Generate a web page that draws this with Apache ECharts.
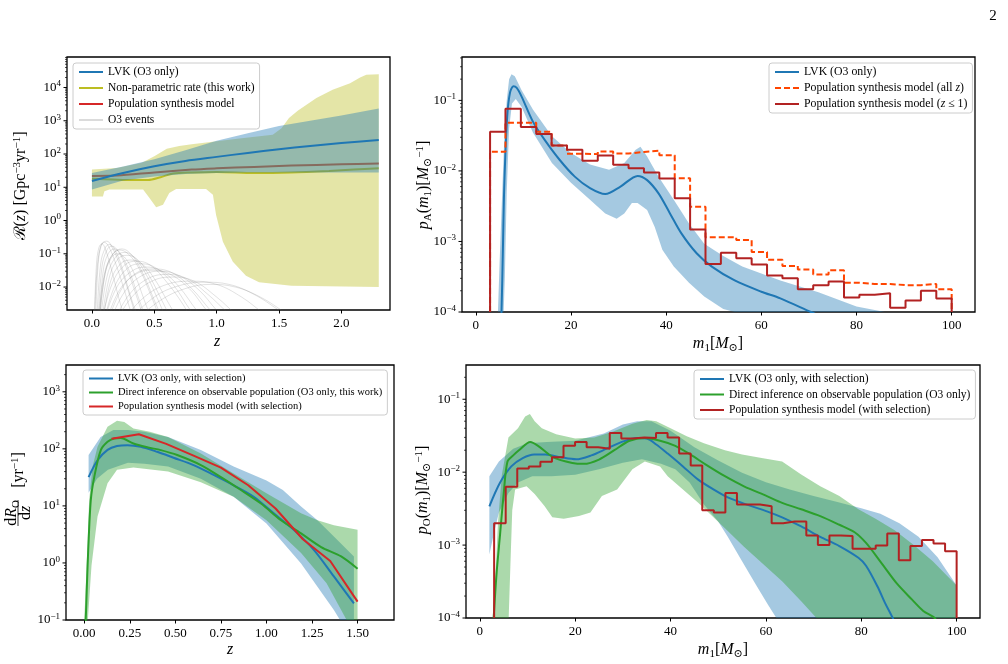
<!DOCTYPE html>
<html>
<head>
<meta charset="utf-8">
<script src="https://cdn.jsdelivr.net/npm/echarts@6/dist/echarts.min.js"></script>
<style>
  html, body { margin: 0; padding: 0; background: #fff; }
  #main { width: 1008px; height: 664px; }
</style>
</head>
<body>
<div id="main"></div>
<script>
// ---------- top left: merger rate vs redshift ----------
var tlLvkLine = [[0, 15.5], [0.25, 27], [0.5, 43], [0.75, 62], [1.0, 82], [1.25, 108], [1.5, 140], [1.75, 175], [2.0, 215], [2.3, 262]]
var tlLvkUpper = [[0, 27], [0.25, 42], [0.5, 70], [0.75, 130], [1.0, 250], [1.25, 420], [1.5, 700], [1.75, 1000], [2.0, 1450], [2.3, 2350]]
var tlLvkLower = [[0, 8.5], [0.25, 16], [0.5, 21], [0.75, 25], [1.0, 27], [1.25, 28], [1.5, 28], [1.75, 28], [2.0, 28], [2.3, 28]]
var tlNpLine = [[0, 18], [0.1, 17.5], [0.3, 16.5], [0.45, 16.5], [0.55, 20], [0.65, 26], [0.8, 28], [1.0, 29], [1.3, 27], [1.6, 28], [1.9, 31], [2.1, 34], [2.3, 37]]
var tlNpUpper = [[0, 34], [0.2, 38], [0.4, 55], [0.5, 85], [0.6, 145], [0.7, 175], [0.8, 195], [1.0, 240], [1.2, 300], [1.45, 380], [1.52, 600], [1.58, 1200], [1.65, 2000], [1.8, 4800], [1.93, 8500], [2.07, 13500], [2.15, 20000], [2.2, 24000], [2.3, 25000]]
var tlNpLower = [[0, 5.3], [0.088, 5.3], [0.1, 7.6], [0.14, 8.5], [0.41, 8.5], [0.46, 4.8], [0.515, 2.5], [0.57, 3.0], [0.62, 6.7], [0.675, 8.9], [0.915, 8.9], [0.97, 6.0], [0.995, 1.5], [1.05, 0.23], [1.13, 0.058], [1.235, 0.022], [1.34, 0.014], [1.6, 0.011], [2.3, 0.01]]
var tlPopLine = [[0, 22], [0.2, 22.5], [0.5, 28], [0.8, 34], [1.0, 37], [1.3, 41], [1.6, 45], [2.0, 49], [2.3, 52]]
var tlO3Events = [
  [[0.02, 0.001], [0.04, 0.03], [0.07, 0.17], [0.1, 0.22], [0.14, 0.15], [0.2, 0.04], [0.27, 0.006], [0.33, 0.001]],
  [[0.03, 0.001], [0.05, 0.05], [0.08, 0.2], [0.12, 0.24], [0.16, 0.16], [0.22, 0.05], [0.3, 0.006], [0.36, 0.001]],
  [[0.05, 0.001], [0.08, 0.04], [0.12, 0.13], [0.16, 0.17], [0.21, 0.12], [0.28, 0.035], [0.36, 0.005], [0.42, 0.001]],
  [[0.04, 0.001], [0.07, 0.05], [0.11, 0.16], [0.14, 0.19], [0.19, 0.12], [0.25, 0.03], [0.32, 0.004], [0.38, 0.001]],
  [[0.02, 0.001], [0.035, 0.04], [0.055, 0.15], [0.08, 0.2], [0.11, 0.13], [0.16, 0.03], [0.22, 0.004], [0.27, 0.001]],
  [[0.06, 0.001], [0.09, 0.03], [0.13, 0.1], [0.18, 0.14], [0.23, 0.1], [0.3, 0.03], [0.38, 0.004], [0.44, 0.001]],
  [[0.05, 0.001], [0.1, 0.025], [0.16, 0.09], [0.22, 0.13], [0.29, 0.1], [0.38, 0.035], [0.47, 0.006], [0.55, 0.001]],
  [[0.07, 0.001], [0.12, 0.02], [0.19, 0.08], [0.26, 0.11], [0.33, 0.085], [0.42, 0.03], [0.52, 0.005], [0.6, 0.001]],
  [[0.06, 0.001], [0.11, 0.03], [0.17, 0.1], [0.24, 0.14], [0.31, 0.1], [0.4, 0.03], [0.5, 0.004], [0.57, 0.001]],
  [[0.08, 0.001], [0.14, 0.02], [0.21, 0.07], [0.28, 0.09], [0.36, 0.07], [0.45, 0.025], [0.56, 0.004], [0.64, 0.001]],
  [[0.09, 0.001], [0.15, 0.015], [0.23, 0.05], [0.31, 0.065], [0.4, 0.05], [0.5, 0.018], [0.62, 0.003], [0.7, 0.001]],
  [[0.06, 0.001], [0.1, 0.02], [0.15, 0.07], [0.2, 0.1], [0.26, 0.08], [0.34, 0.025], [0.42, 0.004], [0.48, 0.001]],
  [[0.08, 0.001], [0.16, 0.012], [0.26, 0.045], [0.36, 0.06], [0.47, 0.045], [0.6, 0.014], [0.73, 0.003], [0.8, 0.001]],
  [[0.1, 0.001], [0.18, 0.01], [0.29, 0.038], [0.4, 0.05], [0.52, 0.036], [0.65, 0.012], [0.79, 0.002], [0.86, 0.001]],
  [[0.12, 0.001], [0.22, 0.008], [0.35, 0.024], [0.48, 0.032], [0.62, 0.025], [0.78, 0.009], [0.92, 0.002], [1.0, 0.001]],
  [[0.15, 0.001], [0.26, 0.007], [0.4, 0.022], [0.55, 0.03], [0.7, 0.022], [0.86, 0.008], [1.0, 0.002], [1.08, 0.001]],
  [[0.1, 0.001], [0.2, 0.01], [0.32, 0.03], [0.43, 0.04], [0.56, 0.03], [0.7, 0.01], [0.84, 0.002], [0.92, 0.001]],
  [[0.18, 0.001], [0.3, 0.006], [0.45, 0.018], [0.6, 0.024], [0.76, 0.018], [0.93, 0.006], [1.08, 0.0018], [1.16, 0.001]],
  [[0.13, 0.001], [0.24, 0.009], [0.36, 0.027], [0.5, 0.035], [0.65, 0.026], [0.8, 0.009], [0.95, 0.002], [1.03, 0.001]],
  [[0.2, 0.001], [0.32, 0.005], [0.48, 0.015], [0.65, 0.02], [0.82, 0.015], [1.0, 0.005], [1.16, 0.0015], [1.25, 0.001]],
  [[0.3, 0.001], [0.5, 0.005], [0.7, 0.011], [0.9, 0.014], [1.1, 0.012], [1.3, 0.006], [1.5, 0.002], [1.62, 0.001]],
  [[0.35, 0.001], [0.55, 0.004], [0.75, 0.009], [0.95, 0.012], [1.15, 0.01], [1.35, 0.005], [1.55, 0.0017], [1.65, 0.001]],
  [[0.25, 0.001], [0.42, 0.005], [0.6, 0.012], [0.8, 0.015], [1.0, 0.012], [1.2, 0.005], [1.38, 0.0016], [1.48, 0.001]]
]

// ---------- top right: astrophysical primary mass ----------
var trLvkLine = [[5.2, 0.00007], [5.4, 0.0001], [5.7, 0.0008], [6.0, 0.0067], [6.6, 0.059], [7.2, 0.13], [7.9, 0.158], [8.6, 0.15], [9.6, 0.114], [12, 0.05], [14.4, 0.028], [17.6, 0.0144], [20.8, 0.0083], [24, 0.0057], [27.2, 0.0047], [30.4, 0.006], [34, 0.0085], [36, 0.0074], [38.4, 0.0048], [40.8, 0.0025], [43.2, 0.0013], [46.4, 0.00068], [49.6, 0.00044], [54.4, 0.00028], [60, 0.000194], [64, 0.000156], [70.4, 0.0001], [72, 0.00009]]
var trLvkUpper = [[4.6, 0.00008], [5.0, 0.0005], [5.5, 0.004], [6.0, 0.03], [6.5, 0.1], [7.0, 0.2], [7.5, 0.235], [8.2, 0.22], [9.6, 0.14], [12, 0.074], [16, 0.031], [20, 0.018], [24, 0.0123], [28, 0.0104], [31.2, 0.0129], [33.6, 0.02], [34.6, 0.022], [36, 0.016], [38.4, 0.0083], [41.6, 0.0039], [44.8, 0.0018], [48, 0.00093], [52, 0.00062], [56, 0.00044], [60, 0.00035], [64, 0.00028], [72, 0.00019], [80, 0.00012], [86, 0.0001], [88, 0.00009]]
var trLvkLower = [[5.8, 0.00008], [6.1, 0.0003], [6.5, 0.005], [7.0, 0.04], [7.6, 0.09], [8.4, 0.105], [9.6, 0.081], [12, 0.035], [16, 0.013], [20, 0.0068], [24, 0.0039], [27.2, 0.0025], [29.6, 0.0021], [31.2, 0.0025], [32.8, 0.0035], [34, 0.0035], [36, 0.0028], [37.6, 0.0016], [39.2, 0.00076], [41.6, 0.00044], [44.8, 0.00026], [48, 0.000166], [52, 0.00011], [54.4, 0.0001], [56, 0.00009], [88, 0.00005]]
var trBinEdges = [3, 6.233, 9.467, 12.7, 15.933, 19.167, 22.4, 25.633, 28.867, 32.1, 35.333, 38.567, 41.8, 45.033, 48.267, 51.5, 54.733, 57.967, 61.2, 64.433, 67.667, 70.9, 74.133, 77.367, 80.6, 83.833, 87.067, 90.3, 93.533, 96.767, 100]
var trPopAllZ = [0.0187, 0.048, 0.048, 0.036, 0.023, 0.0175, 0.0173, 0.0188, 0.0176, 0.0186, 0.0194, 0.0167, 0.0079, 0.0031, 0.00115, 0.00115, 0.00105, 0.00071, 0.00055, 0.00045, 0.0004, 0.00034, 0.00039, 0.00026, 0.00025, 0.00025, 0.00024, 0.00024, 0.00025, 0.00021]
var trPopLowZ = [0.036, 0.076, 0.042, 0.0335, 0.023, 0.020, 0.0139, 0.0165, 0.0122, 0.0109, 0.0095, 0.0078, 0.0041, 0.00148, 0.00048, 0.00069, 0.00058, 0.00047, 0.00033, 0.0003, 0.00021, 0.00024, 0.00027, 0.00016, 0.000175, 0.000185, 0.000115, 0.000146, 0.0002, 0.000155]

// ---------- bottom left: observed rate vs redshift ----------
var blLvkLine = [[0.024, 32], [0.073, 63], [0.128, 96], [0.18, 112], [0.237, 116], [0.31, 109], [0.40, 89], [0.49, 70], [0.60, 52], [0.71, 35], [0.82, 23], [0.93, 14.5], [1.04, 7.4], [1.15, 3.8], [1.26, 1.7], [1.37, 0.58], [1.48, 0.196]]
var blLvkUpper = [[0.024, 78], [0.09, 162], [0.16, 215], [0.24, 215], [0.33, 200], [0.46, 162], [0.64, 95], [0.82, 49], [1.0, 28], [1.09, 19], [1.19, 9.8], [1.28, 5.6], [1.37, 2.9], [1.48, 1.3]]
var blLvkLower = [[0.024, 17], [0.07, 30], [0.13, 43], [0.24, 57], [0.33, 55], [0.46, 49], [0.64, 30], [0.82, 14.5], [1.0, 4.9], [1.19, 0.98], [1.37, 0.15], [1.48, 0.04]]
var blDirLine = [[0.0, 0.05], [0.008, 0.1], [0.015, 0.43], [0.022, 1.7], [0.036, 12.6], [0.055, 32], [0.091, 95], [0.128, 133], [0.164, 152], [0.2, 155], [0.27, 124], [0.35, 106], [0.42, 95], [0.51, 78], [0.64, 52], [0.75, 32], [0.86, 19], [0.97, 11], [1.08, 5.6], [1.19, 3.3], [1.30, 1.9], [1.41, 1.3], [1.5, 0.79]]
var blDirUpper = [[0.0, 0.1], [0.01, 0.5], [0.02, 3], [0.027, 12.6], [0.046, 49], [0.073, 109], [0.128, 245], [0.18, 310], [0.22, 295], [0.27, 228], [0.36, 200], [0.46, 162], [0.64, 83], [0.82, 37], [1.0, 16.6], [1.19, 7.4], [1.28, 5.6], [1.37, 4.6], [1.5, 3.8]]
var blDirLower = [[0.02, 0.1], [0.04, 0.9], [0.073, 6.5], [0.128, 25], [0.18, 43], [0.27, 47], [0.46, 40], [0.64, 26], [0.82, 14.5], [1.0, 5.6], [1.19, 1.5], [1.33, 0.44], [1.44, 0.1], [1.5, 0.06]]
var blPopLine = [[0.15, 150], [0.30, 180], [0.45, 122], [0.60, 76], [0.75, 47], [0.90, 23], [1.05, 9], [1.20, 2.6], [1.35, 1.08], [1.50, 0.21]]

// ---------- bottom right: observed primary mass ----------
var brLvkLine = [[2, 0.0034], [4.2, 0.0071], [6.6, 0.012], [9, 0.0156], [11.4, 0.0175], [13.8, 0.0175], [17, 0.016], [20.2, 0.015], [23.4, 0.017], [26.6, 0.021], [29.8, 0.026], [33, 0.0295], [35, 0.029], [37, 0.024], [39.4, 0.018], [42.6, 0.012], [45.8, 0.0079], [49, 0.0058], [52, 0.0045], [55.4, 0.0037], [60.2, 0.0029], [63.4, 0.0024], [67.4, 0.0018], [71.4, 0.0013], [75.4, 0.00097], [79.4, 0.00067], [81, 0.00052], [83.4, 0.00027], [85, 0.00016], [86.6, 0.0001], [87.2, 0.00008]]
var brLvkUpper = [[2, 0.0088], [4, 0.014], [7, 0.021], [10, 0.025], [14, 0.026], [20, 0.027], [26, 0.034], [30, 0.045], [33, 0.05], [36, 0.05], [40, 0.037], [45, 0.022], [50, 0.0145], [55, 0.0098], [60, 0.0073], [65, 0.0058], [70, 0.0047], [75, 0.0039], [80, 0.0032], [84, 0.0027], [88, 0.002], [92, 0.0013], [96, 0.00068], [100, 0.00028]]
var brLvkLower = [[2, 0.00074], [3, 0.0015], [4, 0.0028], [6, 0.0052], [8, 0.0072], [11, 0.0088], [15, 0.0088], [20, 0.0092], [25, 0.011], [30, 0.0135], [34, 0.015], [38, 0.013], [41, 0.011], [44, 0.0072], [47, 0.0036], [50, 0.0021], [52, 0.0013], [55, 0.0006], [58, 0.00028], [60.5, 0.00015], [62.2, 0.0001], [63, 0.00008], [100, 0.00005]]
var brDirLine = [[2.9, 0.0001], [3.5, 0.0004], [4.2, 0.0013], [5, 0.005], [5.8, 0.014], [7, 0.017], [8.2, 0.02], [10.6, 0.026], [12.2, 0.023], [15.4, 0.016], [19.4, 0.0134], [21.8, 0.013], [25, 0.0149], [28.2, 0.02], [31.4, 0.027], [34.6, 0.0294], [37.8, 0.027], [41, 0.023], [44.2, 0.0174], [47.4, 0.0127], [51.4, 0.0088], [55.4, 0.0064], [60.2, 0.0047], [63.4, 0.0038], [67.4, 0.0031], [71.4, 0.0025], [75.4, 0.0019], [78.6, 0.0015], [81, 0.00107], [84.2, 0.00057], [87.4, 0.0003], [90.6, 0.00018], [93, 0.000125], [95.4, 0.0001], [96, 0.00008]]
var brDirUpper = [[2.6, 0.00008], [3.2, 0.0003], [3.8, 0.002], [4.6, 0.009], [6, 0.03], [8, 0.04], [9.5, 0.058], [10.5, 0.063], [11.5, 0.05], [13, 0.04], [16, 0.033], [20, 0.029], [24, 0.03], [28, 0.036], [32, 0.046], [35, 0.052], [37, 0.05], [40, 0.04], [43.4, 0.031], [47, 0.025], [51.4, 0.02], [55, 0.0175], [59.4, 0.0155], [63.4, 0.014], [67.4, 0.0093], [71.4, 0.0064], [75.4, 0.0047], [79.4, 0.0031], [83, 0.0023], [87, 0.0016], [91, 0.001], [95, 0.0006], [100, 0.00028]]
var brDirLower = [[6.0, 0.00008], [6.4, 0.0005], [6.8, 0.003], [7.4, 0.0058], [9.8, 0.0064], [11.5, 0.005], [13.6, 0.0034], [15.2, 0.0024], [17.6, 0.0023], [20.8, 0.0025], [23.2, 0.0028], [25.6, 0.0047], [28.8, 0.0058], [32, 0.011], [34.6, 0.014], [37.8, 0.012], [39.4, 0.0088], [42.6, 0.0058], [45.8, 0.0038], [49, 0.0024], [51.4, 0.0017], [55.4, 0.00095], [59.4, 0.00055], [63.4, 0.00032], [67.4, 0.00017], [70.6, 0.0001], [72, 0.00008], [100, 0.00005]]
var brBinEdges = [3, 5.425, 7.85, 10.275, 12.7, 15.125, 17.55, 19.975, 22.4, 24.825, 27.25, 29.675, 32.1, 34.525, 36.95, 39.375, 41.8, 44.225, 46.65, 49.075, 51.5, 53.925, 56.35, 58.775, 61.2, 63.625, 66.05, 68.475, 70.9, 73.325, 75.75, 78.175, 80.6, 83.025, 85.45, 87.875, 90.3, 92.725, 95.15, 97.575, 100]
var brPopSel = [0.002, 0.0063, 0.0112, 0.012, 0.0139, 0.016, 0.023, 0.026, 0.022, 0.021, 0.0345, 0.029, 0.030, 0.0295, 0.0345, 0.030, 0.018, 0.0123, 0.003, 0.0028, 0.0052, 0.0036, 0.0036, 0.0034, 0.002, 0.0021, 0.0021, 0.00135, 0.001, 0.00135, 0.00133, 0.00089, 0.00089, 0.00099, 0.00144, 0.00062, 0.00097, 0.00117, 0.00105, 0.00082]

// tick labels
var zTicksTop = [0, 0.5, 1.0, 1.5, 2.0]
var zTicksBottom = [0, 0.25, 0.5, 0.75, 1.0, 1.25, 1.5]
var massTicks = [0, 20, 40, 60, 80, 100]
var logSubs = [2, 3, 4, 5, 6, 7, 8, 9]

var FONT = '"Liberation Serif", "DejaVu Serif", serif'
var BLUE = '#1f77b4'
var OLIVE = '#bcbd22'
var RED = '#d62728'
var DARKRED = '#b22222'
var ORANGE = '#ff4500'
var GREEN = '#2ca02c'

var chart = echarts.init(document.getElementById('main'))

// matplotlib style 10^n labels, only on whole decades
function powLabel(v) {
  var l = Math.log10(v)
  var e = Math.round(l)
  if (Math.abs(l - e) > 1e-6) return ''
  return '10{sup|' + (e < 0 ? '\u2212' + (-e) : e) + '}'
}

function logY(gi, min, max) {
  return {
    type: 'log', logBase: 10, gridIndex: gi, min: min, max: max,
    axisLine: { show: false, onZero: false },
    axisTick: { show: false },
    axisLabel: {
      formatter: powLabel, fontFamily: FONT, fontSize: 13, color: '#000', margin: 6, lineHeight: 16,
      rich: { sup: { fontFamily: FONT, fontSize: 9, lineHeight: 6, verticalAlign: 'top' } }
    },
    splitLine: { show: false }
  }
}

function valX(gi, min, max, ticks, digits) {
  return {
    type: 'value', gridIndex: gi, min: min, max: max,
    axisLine: { show: false, onZero: false },
    axisTick: { show: true, length: 3.5, customValues: ticks, lineStyle: { color: '#000', width: 1 } },
    axisLabel: {
      customValues: ticks, fontFamily: FONT, fontSize: 13, color: '#000', margin: 7,
      formatter: function (v) { return v.toFixed(digits) }
    },
    splitLine: { show: false }
  }
}

// major and minor ticks of a log y axis, drawn outward from the left spine
function logTicks(idx, xmin, lo, hi) {
  var vals = []
  for (var e = Math.floor(Math.log10(lo)); e <= Math.ceil(Math.log10(hi)); e++) {
    var dec = Math.pow(10, e)
    vals.push([xmin, dec, 1])
    logSubs.forEach(function (m) { vals.push([xmin, m * dec, 0]) })
  }
  vals = vals.filter(function (v) { return v[1] >= lo * 0.9999 && v[1] <= hi * 1.0001 })
  return {
    type: 'custom', xAxisIndex: idx, yAxisIndex: idx, silent: true, clip: false, z: 10,
    data: vals,
    renderItem: function (params, api) {
      var p = api.coord([api.value(0), api.value(1)])
      var major = api.value(2) === 1
      var len = major ? 3.5 : 2
      return {
        type: 'line', shape: { x1: p[0] - len, y1: p[1], x2: p[0], y2: p[1] },
        style: { stroke: '#000', lineWidth: major ? 1 : 0.7 }
      }
    }
  }
}

// filled credible band drawn as one polygon through the axis scales
function band(idx, upper, lower, color, z) {
  return {
    type: 'custom', xAxisIndex: idx, yAxisIndex: idx, silent: true, clip: true, z: z,
    data: [upper[0]],
    renderItem: function (params, api) {
      var pts = upper.map(function (p) { return api.coord(p) })
        .concat(lower.slice().reverse().map(function (p) { return api.coord(p) }))
      return { type: 'polygon', shape: { points: pts }, style: { fill: color } }
    }
  }
}

function line(name, idx, data, color, z, width, smooth) {
  return {
    name: name, type: 'line', xAxisIndex: idx, yAxisIndex: idx, data: data, z: z,
    symbol: 'none', smooth: smooth, silent: true,
    lineStyle: { color: color, width: width }, itemStyle: { color: color }
  }
}

// histogram outline: horizontal at each bin value, drops to the floor at both ends
function stepLine(name, idx, edges, vals, floor, color, z, dashed) {
  var d = [[edges[0], floor]]
  for (var i = 0; i < vals.length; i++) d.push([edges[i], vals[i]])
  d.push([edges[edges.length - 1], vals[vals.length - 1]])
  d.push([edges[edges.length - 1], floor])
  var s = line(name, idx, d, color, z, 2, false)
  s.step = 'end'
  if (dashed) s.lineStyle.type = [6, 3]
  return s
}

var series = []
// top left
tlO3Events.forEach(function (ev) {
  series.push(line('O3 events', 0, ev, 'rgba(110,110,110,0.25)', 1, 0.8, 0.4))
})
series.push(line('Population synthesis model', 0, tlPopLine, RED, 2, 2, 0.3))
series.push(line('Non-parametric rate (this work)', 0, tlNpLine, OLIVE, 3, 2, 0.3))
series.push(band(0, tlNpUpper, tlNpLower, 'rgba(188,189,34,0.4)', 4))
series.push(band(0, tlLvkUpper, tlLvkLower, 'rgba(31,119,180,0.4)', 5))
series.push(line('LVK (O3 only)', 0, tlLvkLine, BLUE, 6, 2, 0.3))
// top right
series.push(band(1, trLvkUpper, trLvkLower, 'rgba(31,119,180,0.4)', 2))
series.push(line('LVK (O3 only)', 1, trLvkLine, BLUE, 3, 2, 0.3))
series.push(stepLine('Population synthesis model (all z)', 1, trBinEdges, trPopAllZ, 1e-4, ORANGE, 4, true))
series.push(stepLine('Population synthesis model (z \u2264 1)', 1, trBinEdges, trPopLowZ, 1e-4, DARKRED, 5, false))
// bottom left
series.push(band(2, blLvkUpper, blLvkLower, 'rgba(31,119,180,0.4)', 2))
series.push(band(2, blDirUpper, blDirLower, 'rgba(44,160,44,0.4)', 3))
series.push(line('LVK (O3 only, with selection)', 2, blLvkLine, BLUE, 4, 2, 0.3))
series.push(line('Direct inference on observable population (O3 only, this work)', 2, blDirLine, GREEN, 5, 2, 0.3))
series.push(line('Population synthesis model (with selection)', 2, blPopLine, RED, 6, 2, false))
// bottom right
series.push(band(3, brLvkUpper, brLvkLower, 'rgba(31,119,180,0.4)', 2))
series.push(band(3, brDirUpper, brDirLower, 'rgba(44,160,44,0.4)', 3))
series.push(line('LVK (O3 only, with selection)', 3, brLvkLine, BLUE, 4, 2, 0.3))
series.push(line('Direct inference on observable population (O3 only)', 3, brDirLine, GREEN, 5, 2, 0.3))
series.push(stepLine('Population synthesis model (with selection)\u200b', 3, brBinEdges, brPopSel, 1e-4, DARKRED, 6, false))
// log axis ticks
series.push(logTicks(0, -0.2, 0.00204, 82600))
series.push(logTicks(1, -2.9, 1e-4, 0.412))
series.push(logTicks(2, -0.1, 0.1, 2950))
series.push(logTicks(3, -2.9, 1e-4, 0.295))

function legendBox(left, top, names, size, itemH, gap, fmt) {
  return {
    left: left, top: top, orient: 'vertical', data: names, z: 20,
    itemWidth: 24, itemHeight: itemH, itemGap: gap, padding: [3, 5],
    itemStyle: { opacity: 0 },
    backgroundColor: 'rgba(255,255,255,0.85)', borderColor: '#cccccc', borderWidth: 1, borderRadius: 3,
    selectedMode: false,
    formatter: fmt,
    textStyle: {
      fontFamily: FONT, fontSize: size, color: '#000',
      rich: { i: { fontFamily: FONT, fontSize: size, fontStyle: 'italic' } }
    }
  }
}

function gridAt(left, top, width, height) {
  return {
    left: left, top: top, width: width, height: height, show: true,
    borderColor: '#000', borderWidth: 1.3, backgroundColor: 'transparent',
    containLabel: false, outerBoundsMode: 'none'
  }
}

var RICH = {
  i: { fontFamily: FONT, fontSize: 16, fontStyle: 'italic', lineHeight: 19 },
  r: { fontFamily: '"DejaVu Serif", serif', fontSize: 16, lineHeight: 19 },
  sub: { fontFamily: FONT, fontSize: 11, lineHeight: 12, verticalAlign: 'bottom' },
  sup: { fontFamily: FONT, fontSize: 11, lineHeight: 8, verticalAlign: 'top' }
}
function title(x, y, text, rot) {
  return {
    type: 'text', x: x, y: y, rotation: rot ? Math.PI / 2 : 0, z: 30, silent: true,
    style: {
      text: text, fontFamily: FONT, fontSize: 16, lineHeight: 19, fill: '#000',
      align: 'center', verticalAlign: 'middle', rich: RICH
    }
  }
}

var option = {
  backgroundColor: '#fff',
  animation: false,
  grid: [gridAt(67, 57, 323, 253), gridAt(462, 57, 513, 255), gridAt(66, 365, 328, 255), gridAt(466, 365, 514, 253)],
  xAxis: [
    valX(0, -0.2, 2.39, zTicksTop, 1),
    valX(1, -2.9, 104.9, massTicks, 0),
    valX(2, -0.1, 1.7, zTicksBottom, 2),
    valX(3, -2.9, 104.9, massTicks, 0)
  ],
  yAxis: [
    logY(0, 0.00204, 82600),
    logY(1, 1e-4, 0.412),
    logY(2, 0.1, 2950),
    logY(3, 1e-4, 0.295)
  ],
  legend: [
    legendBox(73, 63, ['LVK (O3 only)', 'Non-parametric rate (this work)', 'Population synthesis model', 'O3 events'], 11.5, 12, 4),
    legendBox(769, 63, ['LVK (O3 only)', 'Population synthesis model (all z)', 'Population synthesis model (z \u2264 1)'], 11.8, 13, 4,
      function (n) { return n.replace('(all z)', '(all {i|z})').replace('(z \u2264', '({i|z} \u2264') }),
    legendBox(83, 370, ['LVK (O3 only, with selection)', 'Direct inference on observable population (O3 only, this work)', 'Population synthesis model (with selection)'], 10.5, 12, 3),
    legendBox(694, 370, ['LVK (O3 only, with selection)', 'Direct inference on observable population (O3 only)', 'Population synthesis model (with selection)\u200b'], 11.5, 13, 3.5)
  ],
  graphic: [
    { type: 'text', x: 993, y: 16, z: 30, style: { text: '2', fontFamily: FONT, fontSize: 15, fill: '#000', align: 'center', verticalAlign: 'middle' } },
    title(217, 342, '{i|z}'),
    title(718, 344, '{i|m}{sub|1}[{i|M}{sub|\u2299}]'),
    title(230, 650, '{i|z}'),
    title(723, 650, '{i|m}{sub|1}[{i|M}{sub|\u2299}]'),
    title(21, 186, '{r|\u211b}({i|z}) [Gpc{sup|\u22123}yr{sup|\u22121}]', true),
    title(424, 185, '{i|p}{sub|A}({i|m}{sub|1})[{i|M}{sub|\u2299}{sup|\u22121}]', true),
    title(423, 490, '{i|p}{sub|O}({i|m}{sub|1})[{i|M}{sub|\u2299}{sup|\u22121}]', true),
    // dR_O/dz [yr^-1] as a stacked fraction, rotated
    {
      type: 'group', x: 20, y: 489, rotation: Math.PI / 2, z: 30, silent: true,
      children: [
        { type: 'text', x: -24, y: -8, style: { text: 'd{i|R}{sub|O}', fontFamily: FONT, fontSize: 16, lineHeight: 19, fill: '#000', align: 'center', verticalAlign: 'middle', rich: RICH } },
        { type: 'line', shape: { x1: -37, y1: -2, x2: -11, y2: -2 }, style: { stroke: '#000', lineWidth: 0.8 } },
        { type: 'text', x: -24, y: 6, style: { text: 'd{i|z}', fontFamily: FONT, fontSize: 16, lineHeight: 19, fill: '#000', align: 'center', verticalAlign: 'middle', rich: RICH } },
        { type: 'text', x: 19, y: -1, style: { text: '[yr{sup|\u22121}]', fontFamily: FONT, fontSize: 16, lineHeight: 19, fill: '#000', align: 'center', verticalAlign: 'middle', rich: RICH } }
      ]
    }
  ],
  series: series
}

chart.setOption(option)
</script>
</body>
</html>
